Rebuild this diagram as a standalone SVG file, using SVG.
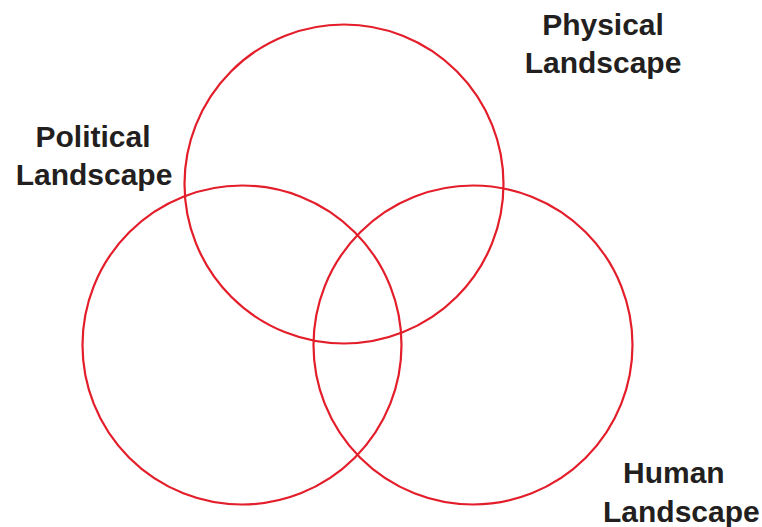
<svg xmlns="http://www.w3.org/2000/svg" width="762" height="527" viewBox="0 0 762 527">
<style>
.c{fill:none;stroke:#e31e2a;stroke-width:2.2}
.t{font-family:"Liberation Sans",Arial,sans-serif;font-weight:bold;font-size:30px;fill:#231f20}
</style>
<rect width="762" height="527" fill="#fff"/>
<g id="physical"><circle class="c" cx="344" cy="184" r="159.5"/></g>
<g id="political"><circle class="c" cx="242" cy="345" r="159.5"/></g>
<g id="human"><circle class="c" cx="473" cy="345" r="159.5"/></g>
<g id="connectors"></g>
<g id="labels">
<text class="t" x="603" y="35" text-anchor="middle">Physical</text>
<text class="t" x="603" y="73" text-anchor="middle">Landscape</text>
<text class="t" x="93" y="147" text-anchor="middle">Political</text>
<text class="t" x="94" y="185" text-anchor="middle">Landscape</text>
<text class="t" x="623" y="483">Human</text>
<text class="t" x="603" y="522">Landscape</text>
</g>
</svg>
